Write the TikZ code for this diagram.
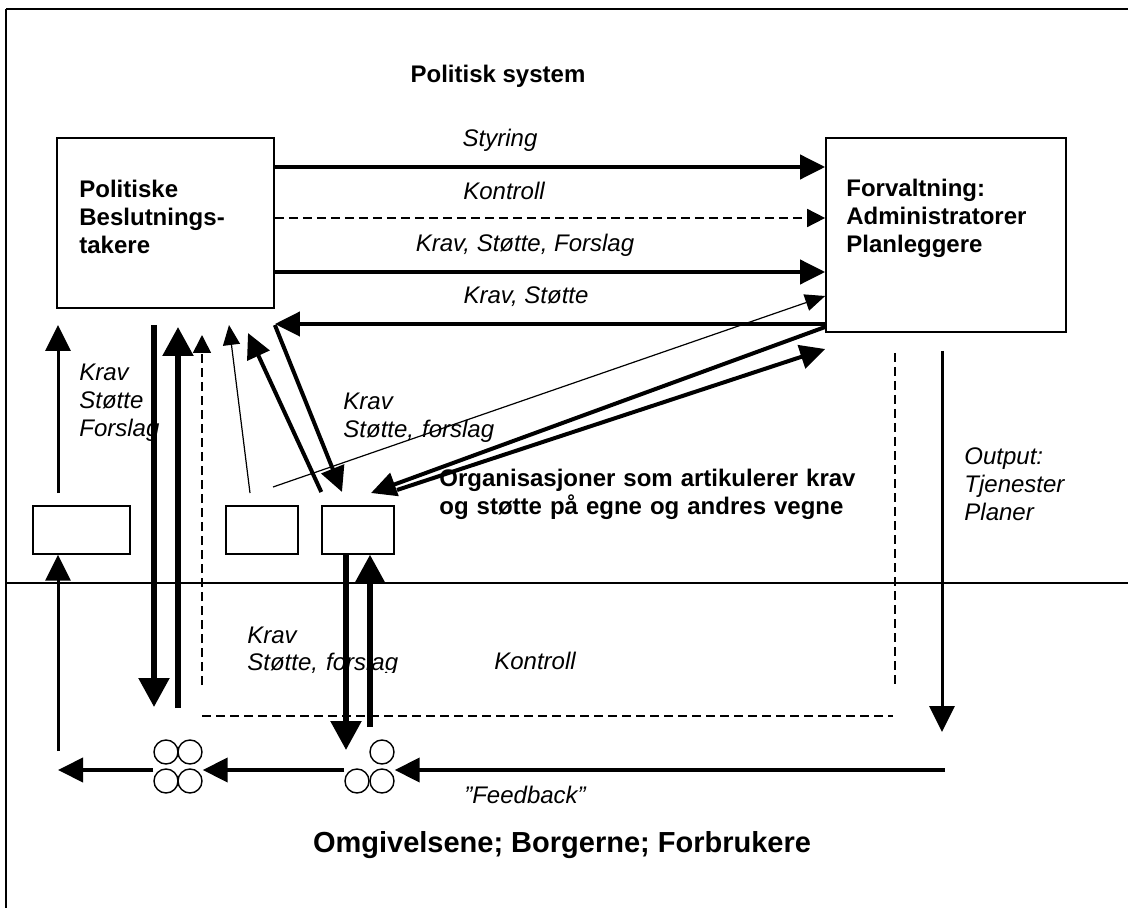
\documentclass[tikz,border=0pt]{standalone}
\usepackage{fontspec}
\setmainfont{Liberation Sans}
\usetikzlibrary{arrows.meta}

\begin{document}
\begin{tikzpicture}[x=0.5pt,y=-0.5pt,
	box/.style={draw,line width=0.85pt,inner sep=0pt},
	lbl/.style={font=\fontsize{12}{13.8}\selectfont\itshape,inner sep=0pt},
	hd/.style={font=\fontsize{12}{13.8}\selectfont\bfseries,inner sep=0pt},
	multi/.style={anchor=base west,align=left,text width=#1},
	arr/.style={line width=2pt,-{Triangle[length=12.5pt,width=12pt]}},
	fatarr/.style={line width=2.75pt,-{Triangle[length=14.5pt,width=15pt]}},
	medarr/.style={line width=1.5pt,-{Triangle[length=13pt,width=12.5pt]}},
	thinarr/.style={line width=0.6pt,-{Triangle[length=10pt,width=8.5pt]}},
	dashln/.style={line width=0.8pt,dash pattern=on 4.5pt off 2.5pt},
	dasharr/.style={dashln,-{Triangle[length=9pt,width=9pt]}},
	ring/.style={circle,draw,line width=0.7pt,minimum size=12pt,inner sep=0pt}]

	\useasboundingbox (0,0) rectangle (1128,908);

	% frame and border between system and surroundings
	\draw[line width=1.3pt] (6,9) -- (1128,9);
	\draw[line width=0.6pt] (6,9) -- (6,908);
	\draw[line width=0.9pt] (6,583) -- (1128,583);

	\node[hd] (title) at (498,76) {Politisk system};

	% main boxes
	\node[box,minimum width=108.5pt,minimum height=85pt] (pol) at (165.5,223) {};
	\node[hd,multi=100pt] (poltxt) at (79,198) {Politiske\\Beslutnings-\\takere};
	\node[box,minimum width=120pt,minimum height=97pt] (forv) at (946,235) {};
	\node[hd,multi=110pt] (forvtxt) at (846,197) {Forvaltning:\\Administratorer\\Planleggere};

	% small boxes
	\node[box,line width=0.7pt,minimum width=48.5pt,minimum height=24pt] (grpA) at (81.5,530) {};
	\node[box,line width=0.7pt,minimum width=36pt,minimum height=24pt] (grpB) at (262,530) {};
	\node[box,line width=0.7pt,minimum width=36pt,minimum height=24pt] (grpC) at (358,530) {};

	% citizens
	\node[ring] (c1) at (166,752) {};
	\node[ring] (c2) at (190,752) {};
	\node[ring] (c3) at (166,781) {};
	\node[ring] (c4) at (190,781) {};
	\node[ring] (c5) at (382,752) {};
	\node[ring] (c6) at (357,781) {};
	\node[ring] (c7) at (382,781) {};

	% labels
	\node[lbl] (styring) at (500,140) {Styring};
	\node[lbl] (kontroll) at (504,191) {Kontroll};
	\node[lbl] (ksf) at (525,245) {Krav, Støtte, Forslag};
	\node[lbl] (ks) at (526,297) {Krav, Støtte};
	\node[lbl,multi=80pt] (ksfleft) at (79,381) {Krav\\Støtte\\Forslag};
	\node[lbl,multi=100pt] (ksfmid) at (343,410) {Krav\\Støtte, forslag};
	\node[hd,multi=230pt] (org) at (439,487) {Organisasjoner som artikulerer krav\\og støtte på egne og andres vegne};
	\node[lbl,multi=80pt] (output) at (964,465) {Output:\\Tjenester\\Planer};
	\begin{scope}
		\clip (240,610) rectangle (420,672);
		\node[lbl,multi=100pt] (ksflow) at (247,643) {Krav\\Støtte, forslag};
	\end{scope}
	\node[lbl] (kontroll2) at (535,661) {Kontroll};
	\node[lbl] (feedback) at (525,795) {”Feedback”};
	\node[hd,font=\fontsize{14.5}{16}\selectfont\bfseries] (omg) at (562,845) {Omgivelsene; Borgerne; Forbrukere};

	% free ends
	\coordinate (thinfrom) at (273,487);
	\coordinate (orgto) at (371,493);
	\coordinate (orgfrom) at (397,490);
	\coordinate (cto) at (342,492);
	\coordinate (fromcto) at (248,333);
	\coordinate (bfrom) at (250,493);
	\coordinate (bto) at (229,325);

	% between the boxes
	\draw[arr] (pol.east |- 0,167) -- (forv.west |- 0,167);
	\draw[dasharr] (pol.east |- 0,218) -- (forv.west |- 0,218);
	\draw[arr] (pol.east |- 0,272) -- (forv.west |- 0,272);
	\draw[arr] (forv.west |- 0,324) -- (pol.east |- 0,324);
	\draw[thinarr] (thinfrom) -- (forv.west |- 0,296);
	\draw[arr] (forv.west |- 0,327) -- (orgto);
	\draw[arr] (orgfrom) -- (forv.west |- 0,349);

	% organisations up to decision makers
	\draw[arr] (pol.east |- 0,325) -- (cto);
	\draw[arr] (grpC.west |- 0,492) -- (fromcto);
	\draw[thinarr] (bfrom) -- (bto);
	\draw[medarr] (58,493) -- (58,325);
	\draw[dasharr] (202,685) -- (202,335);
	\draw[fatarr] (154,325) -- (154,707);
	\draw[fatarr] (178,708) -- (178,327);

	% surroundings
	\draw[medarr] (58,751) -- (grpA.south -| 58,0);
	\draw[fatarr] (grpC.south -| 346,0) -- (346,750);
	\draw[fatarr] (370,727) -- (grpC.south -| 370,0);
	\draw[medarr] (942,351) -- (942,732);
	\draw[dashln] (202,716) -- (893,716);
	\draw[dashln] (895,353) -- (895,685);

	% feedback
	\draw[arr] (945,770) -- (c7.east |- 0,770);
	\draw[arr] (c6.west |- 0,770) -- (c4.east |- 0,770);
	\draw[arr] (c3.west |- 0,770) -- (58,770);

\end{tikzpicture}
\end{document}
